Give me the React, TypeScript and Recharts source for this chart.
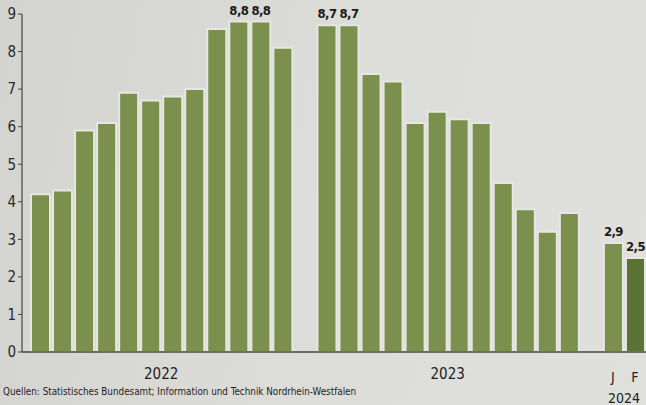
import { BarChart, Bar, XAxis, YAxis, Cell, LabelList } from 'recharts'

// Verbraucherpreise, Veränderung gegenüber Vorjahresmonat in %
const years = ['2022', '2023', '2024']
const values2022 = [4.2, 4.3, 5.9, 6.1, 6.9, 6.7, 6.8, 7.0, 8.6, 8.8, 8.8, 8.1]
const values2023 = [8.7, 8.7, 7.4, 7.2, 6.1, 6.4, 6.2, 6.1, 4.5, 3.8, 3.2, 3.7]
const values2024 = [2.9, 2.5]
const monthLetters2024 = ['J', 'F']
const labelled = ['2022-10', '2022-11', '2023-01', '2023-02', '2024-01', '2024-02']
const yTicks = [0, 1, 2, 3, 4, 5, 6, 7, 8, 9]
const source = 'Quellen: Statistisches Bundesamt; Information und Technik Nordrhein-Westfalen'

const W = 646
const H = 405
const Y_W = 22
const PAD_L = 7
const FONT = "'DejaVu Sans Condensed', 'Open Sans', sans-serif"

type Row = { key: string; value: number | null; label?: string }

const toRows = (year: string, vals: number[]): Row[] =>
  vals.map((v, i) => {
    const key = `${year}-${String(i + 1).padStart(2, '0')}`
    return { key, value: v, label: labelled.includes(key) ? v.toFixed(1).replace('.', ',') : undefined }
  })

const data: Row[] = [
  ...toRows(years[0], values2022),
  { key: 'gap-1', value: null },
  ...toRows(years[1], values2023),
  { key: 'gap-2', value: null },
  ...toRows(years[2], values2024),
]

const SLOT = (W - Y_W - PAD_L) / data.length

const XTick = (props: any) => {
  const { x, y, payload } = props
  const v: string = payload.value
  if (v === '2022-06' || v === '2023-06') {
    return (
      <text x={x + SLOT / 2} y={y + 19} textAnchor="middle" fontSize={15} fill="#222" fontFamily={FONT}>
        {v.slice(0, 4)}
      </text>
    )
  }
  if (v.startsWith('2024')) {
    const idx = Number(v.slice(5)) - 1
    return (
      <g>
        <text x={x} y={y + 22} textAnchor="middle" fontSize={14} fill="#222" fontFamily={FONT}>
          {monthLetters2024[idx]}
        </text>
        {idx === 0 && (
          <text x={x + SLOT / 2} y={y + 43} textAnchor="middle" fontSize={14} fill="#222" fontFamily={FONT}>
            {years[2]}
          </text>
        )}
      </g>
    )
  }
  return null
}

const TopLabel = (p: any) => {
  if (!p.value) return null
  return (
    <text
      x={Number(p.x) + Number(p.width) / 2}
      y={Number(p.y) - 7}
      textAnchor="middle"
      fontSize={13}
      fontWeight={700}
      letterSpacing={-0.6}
      fill="#1a1a1a"
      fontFamily={FONT}
    >
      {p.value}
    </text>
  )
}

export default function App() {
  return (
    <div
      style={{
        position: 'fixed',
        left: 0,
        top: 0,
        width: W,
        height: H,
        background: 'linear-gradient(100deg, #d3d3cf 0%, #dcdcd8 50%, #e0e0dc 100%)',
        fontFamily: FONT,
      }}
    >
      <BarChart width={W} height={H} data={data} margin={{ top: 14, right: 0, bottom: 0, left: 0 }} barSize={19}>
        <XAxis
          dataKey="key"
          interval={0}
          height={53}
          padding={{ left: PAD_L, right: 0 }}
          axisLine={{ stroke: '#444', strokeWidth: 1.5 }}
          tickLine={false}
          tick={<XTick />}
        />
        <YAxis
          width={Y_W}
          domain={[0, 9]}
          ticks={yTicks}
          interval={0}
          tickSize={4}
          tickMargin={2}
          axisLine={{ stroke: '#444', strokeWidth: 1.2 }}
          tickLine={{ stroke: '#444' }}
          tick={{ fontSize: 15, fill: '#2a2a2a', fontFamily: FONT }}
        />
        <Bar dataKey="value" stroke="#e6e6e2" strokeWidth={2} isAnimationActive={false}>
          {data.map((d) => (
            <Cell key={d.key} fill={d.key === '2024-02' ? '#5b7436' : '#7b904d'} />
          ))}
          <LabelList dataKey="label" content={TopLabel} />
        </Bar>
      </BarChart>
      <div
        style={{
          position: 'absolute',
          left: 3,
          top: 386,
          fontSize: 9.8,
          color: '#1e1e1e',
          whiteSpace: 'nowrap',
        }}
      >
        {source}
      </div>
    </div>
  )
}
